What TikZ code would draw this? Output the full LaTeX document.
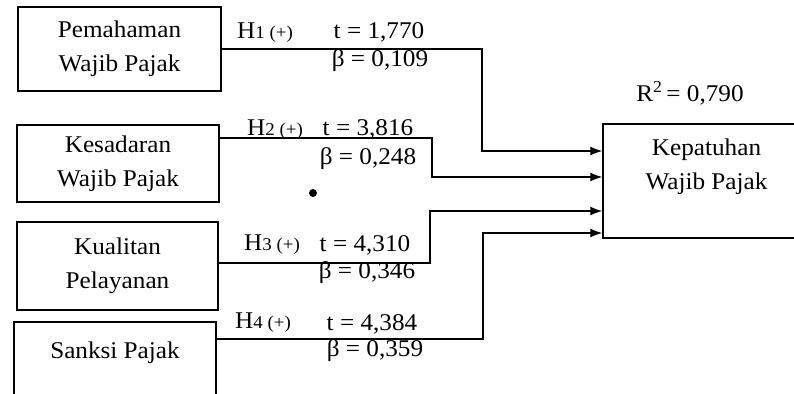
\documentclass[tikz,border=0pt]{standalone}
\usepackage{fontspec}
\setmainfont{Liberation Serif}[FakeStretch=1.05]
\usepackage{xcolor}
\usetikzlibrary{arrows.meta, calc}
\newcommand{\hyp}[1]{H{\fontsize{18}{20}\selectfont #1 (+)}}

\begin{document}
\begin{tikzpicture}[x=1pt, y=-1pt,
		every node/.style={font=\fontsize{24}{34}\selectfont},
		varbox/.style={draw, line width=1.4pt, align=center, inner sep=0pt},
		stat/.style={inner sep=0pt},
		path/.style={line width=1.4pt, -{Latex[length=12pt, width=9pt]}}]
			\useasboundingbox (0,0) rectangle (794,393);
			% variabel
			\node[varbox, minimum width=203pt, minimum height=84pt] (pemahaman) at (119.5,49) {Pemahaman\\Wajib Pajak};
			\node[varbox, minimum width=202pt, minimum height=77pt] (kesadaran) at (118,163.5) {Kesadaran\\Wajib Pajak};
			\node[varbox, minimum width=201pt, minimum height=88pt] (kualitas) at (117.5,266) {Kualitan\\Pelayanan};
			\node[varbox, minimum width=202pt, minimum height=90pt] (sanksi) at (115,367) {Sanksi Pajak\\~};
			\node[varbox, minimum width=207pt, minimum height=114pt] (kepatuhan) at (706.5,181) {Kepatuhan\\Wajib Pajak\\~};
			\node (rsq) at (690,93) {R\textsuperscript{2}\,= 0,790};
			% titik belok
			\coordinate (k1) at (482,0);
			\coordinate (k2) at (432,0);
			\coordinate (k3) at (430,0);
			\coordinate (k4) at (483,0);
			\draw[path] (pemahaman.east) -- (pemahaman.east -| k1) |- ([yshift=30pt]kepatuhan.west);
			\draw[path] ([yshift=25.5pt]kesadaran.east) -- ([yshift=25.5pt]kesadaran.east -| k2) |- ([yshift=4pt]kepatuhan.west);
			\draw[path] ([yshift=3pt]kualitas.east) -- ([yshift=3pt]kualitas.east -| k3) |- ([yshift=-30pt]kepatuhan.west);
			\draw[path] ([yshift=28pt]sanksi.east) -- ([yshift=28pt]sanksi.east -| k4) |- ([yshift=-52pt]kepatuhan.west);
			% koefisien
			\node[stat] (h1) at (265,33) {\hyp{1}};
			\node[stat] (t1) at (379,32) {t = 1,770};
			\node[stat] (b1) at (380,61) {β = 0,109};
			\node[stat] (h2) at (275,130) {\hyp{2}};
			\node[stat] (t2) at (368,129) {t = 3,816};
			\node[stat] (b2) at (368,159) {β = 0,248};
			\node[stat] (h3) at (272,245) {\hyp{3}};
			\node[stat] (t3) at (365,245) {t = 4,310};
			\node[stat] (b3) at (367,273) {β = 0,346};
			\node[stat] (h4) at (263,323) {\hyp{4}};
			\node[stat] (t4) at (372,324) {t = 4,384};
			\node[stat] (b4) at (375,351) {β = 0,359};
			\fill (313,193) circle (4pt);
		\end{tikzpicture}
\end{document}
